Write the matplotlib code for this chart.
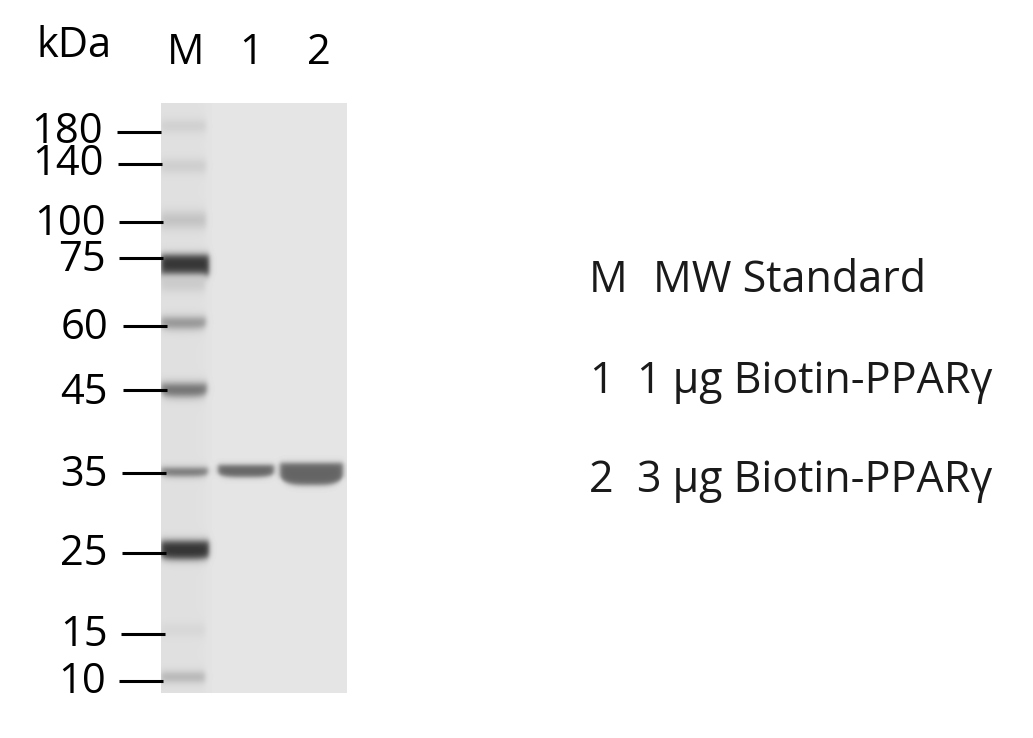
import numpy as np
import matplotlib
matplotlib.use("Agg")
import matplotlib.pyplot as plt

plt.rcParams['font.family'] = ['Open Sans', 'DejaVu Sans']

# marker ladder labels and where they sit (pixels of the picture)
kda_labels = ["180", "140", "100", "75", "60", "45", "35", "25", "15", "10"]
label_y = [132, 164, 224, 260, 328, 393, 475, 554, 635, 682]
label_right = [103, 104, 106, 106, 108, 108, 108, 108, 108, 106]
tick_y = [131.7, 163.7, 222, 257.7, 325.7, 390, 472.7, 552.7, 633.7, 680.7]
tick_x0 = [117, 118, 118.5, 119, 122.5, 122.5, 121.5, 121.5, 121, 119]
tick_x1 = [161, 162, 163, 163, 167, 167, 166, 166, 165, 163]

lane_names = ["M", "1", "2"]
lane_x = [186, 251, 319]
legend_left = ["M", "1", "2"]
legend_right = ["MW Standard", "1 µg Biotin-PPARγ", "3 µg Biotin-PPARγ"]
legend_y = [281, 382, 481]
legend_x = [653, 637, 637]

# bands: x left, x right, y centre, half height, grey value, bottom bulge, edge softness
bands_x0 = [161, 161, 161, 161, 161, 161, 161, 161, 161, 161, 161, 218, 280]
bands_x1 = [206, 206, 206, 209, 205, 206, 207, 208, 209, 205, 205, 274, 343]
bands_y = [126, 166, 220, 265, 283, 323, 390, 472, 550, 630, 677, 471, 474]
bands_h = [4, 5, 6, 10, 7, 5, 6, 4, 9, 5, 4, 6, 11]
bands_g = [200, 200, 185, 48, 200, 135, 100, 110, 48, 212, 170, 100, 100]
bands_bulge = [0, 0, 0, 0, 0, 2, 3, 2, 2, 0, 0, 3, 7]
bands_soft = [3, 3, 3.5, 2.2, 3, 2.5, 2.5, 1.8, 2.2, 3, 2.5, 1.5, 1.6]

H, W = 590, 186
gel_left, gel_top = 161, 103
yy, xx = np.mgrid[gel_top:gel_top + H, gel_left:gel_left + W] + 0.5

gel = np.full((H, W), 229.0)
# the marker lane is only slightly darker than the rest of the gel
lane = 1 / (1 + np.exp((xx - 207) / 3))
gel -= 5 * lane

for x0, x1, y, h, g, b, s in zip(bands_x0, bands_x1, bands_y, bands_h, bands_g, bands_bulge, bands_soft):
    u = np.clip((xx - (x0 + x1) / 2) / ((x1 - x0) / 2), -1, 1)
    top = y - h
    bottom = y + h - b * u**4
    across = 1 / (1 + np.exp((xx - x1) / 1.5)) * 1 / (1 + np.exp((x0 - xx) / 1.5))
    along = 1 / (1 + np.exp((top - yy) / s)) * 1 / (1 + np.exp((yy - bottom) / s))
    a = across * along
    gel = gel * (1 - a) + g * a

fig = plt.figure(figsize=(10.33, 7.38), dpi=100)
ax = fig.add_axes([0, 0, 1, 1])
ax.axis("off")

ax.imshow(gel, cmap="gray", vmin=0, vmax=255, aspect="auto", interpolation="bilinear",
          extent=[gel_left, gel_left + W, gel_top + H, gel_top], zorder=1)
ax.set_xlim(0, 1033)
ax.set_ylim(738, 0)

for y, a, b in zip(tick_y, tick_x0, tick_x1):
    ax.plot([a, b], [y, y], color="black", lw=2.2, solid_capstyle="butt", zorder=2)

for t, y, r in zip(kda_labels, label_y, label_right):
    ax.text(r, y, t, fontsize=30, ha="right", va="center", color="black")

ax.text(37, 46, "kDa", fontsize=30, ha="left", va="center", color="black")
for t, x in zip(lane_names, lane_x):
    ax.text(x, 53, t, fontsize=30, ha="center", va="center", color="black")

for a, b, x, y in zip(legend_left, legend_right, legend_x, legend_y):
    ax.text(589, y, a, fontsize=31, ha="left", va="center", color="#1a1a1a")
    ax.text(x, y, b, fontsize=31, ha="left", va="center", color="#1a1a1a")

fig.savefig("out.png", dpi=100)
